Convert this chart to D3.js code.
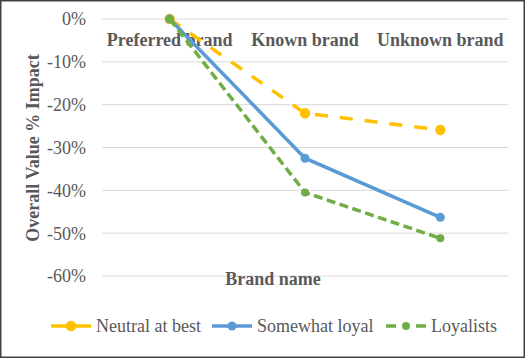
<!DOCTYPE html>
<html><head><meta charset="utf-8">
<script src="https://cdn.jsdelivr.net/npm/d3@7"></script>
<style>body{margin:0;background:#fff}svg{display:block}</style>
</head><body>
<script>
const categories = ["Preferred brand", "Known brand", "Unknown brand"];
const seriesNames = ["Neutral at best", "Somewhat loyal", "Loyalists"];
const neutralAtBest = [0, -0.22, -0.259];
const somewhatLoyal = [0, -0.325, -0.463];
const loyalists = [0, -0.405, -0.512];
const yTicks = [0, -0.1, -0.2, -0.3, -0.4, -0.5, -0.6];

const W = 526, H = 359;
const FONT = '"Liberation Serif"';
const svg = d3.select("body").append("svg").attr("width", W).attr("height", H);
svg.append("rect").attr("x", 0.75).attr("y", 0.75).attr("width", 523.5).attr("height", 356.5)
  .attr("fill", "#fff").attr("stroke", "#404040").attr("stroke-width", 1.5);

const x = d3.scaleBand().domain(categories).range([102, 508]);
const y = d3.scaleLinear().domain([-0.6, 0]).range([276, 19]);

// gridlines
svg.append("g").selectAll("line").data(yTicks).join("line")
  .attr("x1", 102).attr("x2", 508).attr("y1", d => y(d)).attr("y2", d => y(d))
  .attr("stroke", "#d9d9d9").attr("stroke-width", 1);

const pct = d => Math.round(d * 100) + "%";
const yAxis = d3.axisLeft(y).tickValues(yTicks).tickFormat(pct).tickSize(0).tickPadding(0);
const gy = svg.append("g").attr("transform", "translate(86,0)").call(yAxis);
gy.select(".domain").remove();
gy.selectAll("text").style("font-family", FONT).style("font-size", "18px").attr("fill", "#595959").attr("dy", "0.33em");

const xAxis = d3.axisTop(x).tickSize(0).tickPadding(0);
const gx = svg.append("g").attr("transform", "translate(0,46)").call(xAxis);
gx.select(".domain").remove();
gx.selectAll("text").style("font-family", FONT).style("font-size", "18px").style("font-weight", "bold").attr("fill", "#595959");

svg.append("text").attr("transform", "translate(39,148) rotate(-90)").attr("text-anchor", "middle")
  .style("font-family", FONT).style("font-size", "18px").style("font-weight", "bold").attr("fill", "#595959")
  .text("Overall Value % Impact");
svg.append("text").attr("x", 273).attr("y", 285).attr("text-anchor", "middle")
  .style("font-family", FONT).style("font-size", "18px").style("font-weight", "bold").attr("fill", "#595959")
  .text("Brand name");

const series = [
  {name: seriesNames[0], values: neutralAtBest, color: "#FFC000", dash: "13,12", legDash: null, r: 5.2},
  {name: seriesNames[1], values: somewhatLoyal, color: "#5B9BD5", dash: null, legDash: null, r: 4.5},
  {name: seriesNames[2], values: loyalists, color: "#70AD47", dash: "9,4.5", legDash: "10,20,10", r: 4}
];
const line = d3.line().x((d, i) => x(categories[i]) + x.bandwidth() / 2).y(d => y(d));
series.forEach(s => {
  const g = svg.append("g");
  g.append("path").attr("d", line(s.values)).attr("fill", "none").attr("stroke", s.color)
    .attr("stroke-width", 3.5).attr("stroke-dasharray", s.dash);
  g.selectAll("circle").data(s.values).join("circle")
    .attr("cx", (d, i) => x(categories[i]) + x.bandwidth() / 2).attr("cy", d => y(d))
    .attr("r", s.r).attr("fill", s.color);
});

// legend
const legendX = [51, 212, 386];
const leg = svg.append("g");
series.forEach((s, i) => {
  const lx = legendX[i], ly = 326;
  leg.append("line").attr("x1", lx).attr("x2", lx + 40).attr("y1", ly).attr("y2", ly)
    .attr("stroke", s.color).attr("stroke-width", 3.5).attr("stroke-dasharray", s.legDash);
  leg.append("circle").attr("cx", lx + 20).attr("cy", ly).attr("r", s.r).attr("fill", s.color);
  leg.append("text").attr("x", lx + 45).attr("y", ly).attr("dy", "0.33em")
    .style("font-family", FONT).style("font-size", "18px").attr("fill", "#595959").text(s.name);
});
</script>
</body></html>
